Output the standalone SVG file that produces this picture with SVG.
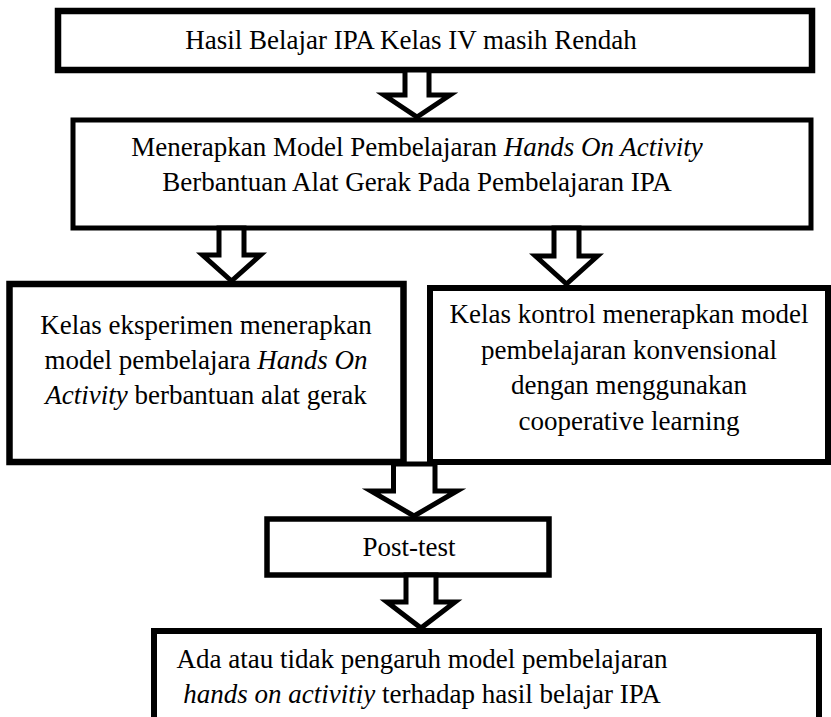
<svg xmlns="http://www.w3.org/2000/svg" width="831" height="717" viewBox="0 0 831 717">
<defs>
<style>
.box{fill:#fff;stroke:#000;stroke-linejoin:miter}
.arr{fill:#fff;stroke:#000;stroke-width:5;stroke-linejoin:miter;stroke-miterlimit:10}
</style>
</defs>
<rect width="831" height="717" fill="#fff"/>
<g id="n1">
<rect class="box" x="58" y="11" width="754" height="59" stroke-width="6.5"/>
<text style="font-family:'Liberation Serif';font-size:27px" text-anchor="middle" x="411" y="49">Hasil Belajar IPA Kelas IV masih Rendah</text>
</g>
<g id="n2">
<rect class="box" x="73" y="120" width="738" height="108" stroke-width="5"/>
<text style="font-family:'Liberation Serif';font-size:27px" text-anchor="middle" x="417" y="156">Menerapkan Model Pembelajaran <tspan font-style="italic">Hands On Activity</tspan></text>
<text style="font-family:'Liberation Serif';font-size:27px" text-anchor="middle" x="417" y="191">Berbantuan Alat Gerak Pada Pembelajaran IPA</text>
</g>
<g id="n3">
<rect class="box" x="9.5" y="284" width="394" height="178" stroke-width="6.5"/>
<text style="font-family:'Liberation Serif';font-size:27px" text-anchor="middle" x="206" y="334">Kelas eksperimen menerapkan</text>
<text style="font-family:'Liberation Serif';font-size:27px" text-anchor="middle" x="206" y="369">model pembelajara <tspan font-style="italic">Hands On</tspan></text>
<text style="font-family:'Liberation Serif';font-size:27px" text-anchor="middle" x="206" y="404"><tspan font-style="italic">Activity</tspan> berbantuan alat gerak</text>
</g>
<g id="n4">
<rect class="box" x="430" y="288" width="398" height="174" stroke-width="6"/>
<text style="font-family:'Liberation Serif';font-size:27px" text-anchor="middle" x="629" y="323">Kelas kontrol menerapkan model</text>
<text style="font-family:'Liberation Serif';font-size:27px" text-anchor="middle" x="629" y="359">pembelajaran konvensional</text>
<text style="font-family:'Liberation Serif';font-size:27px" text-anchor="middle" x="629" y="394">dengan menggunakan</text>
<text style="font-family:'Liberation Serif';font-size:27px" text-anchor="middle" x="629" y="430">cooperative learning</text>
</g>
<g id="n5">
<rect class="box" x="267" y="519" width="282" height="56" stroke-width="5.5"/>
<text style="font-family:'Liberation Serif';font-size:27px" text-anchor="middle" x="409" y="556">Post-test</text>
</g>
<g id="n6">
<rect class="box" x="154" y="631" width="665" height="95" stroke-width="6"/>
<text style="font-family:'Liberation Serif';font-size:27px" text-anchor="middle" x="422" y="668">Ada atau tidak pengaruh model pembelajaran</text>
<text style="font-family:'Liberation Serif';font-size:27px" text-anchor="middle" x="422" y="703"><tspan font-style="italic">hands on activitiy</tspan> terhadap hasil belajar IPA</text>
</g>
<g id="connectors">
<polygon class="arr" points="405,70 405,95 384,95 417,117 450,95 429,95 429,70"/>
<polygon class="arr" points="219,228 219,255 202.5,255 231.5,281 260.5,255 244,255 244,228"/>
<polygon class="arr" points="554,228 554,256 535.5,256 566.5,284 597.5,256 579,256 579,228"/>
<polygon class="arr" points="393.5,464 393.5,491 371,491 414,516 457,491 435,491 435,464"/>
<polygon class="arr" points="406,575 406,602 387,602 421,628 455,602 436,602 436,575"/>
</g>
</svg>
